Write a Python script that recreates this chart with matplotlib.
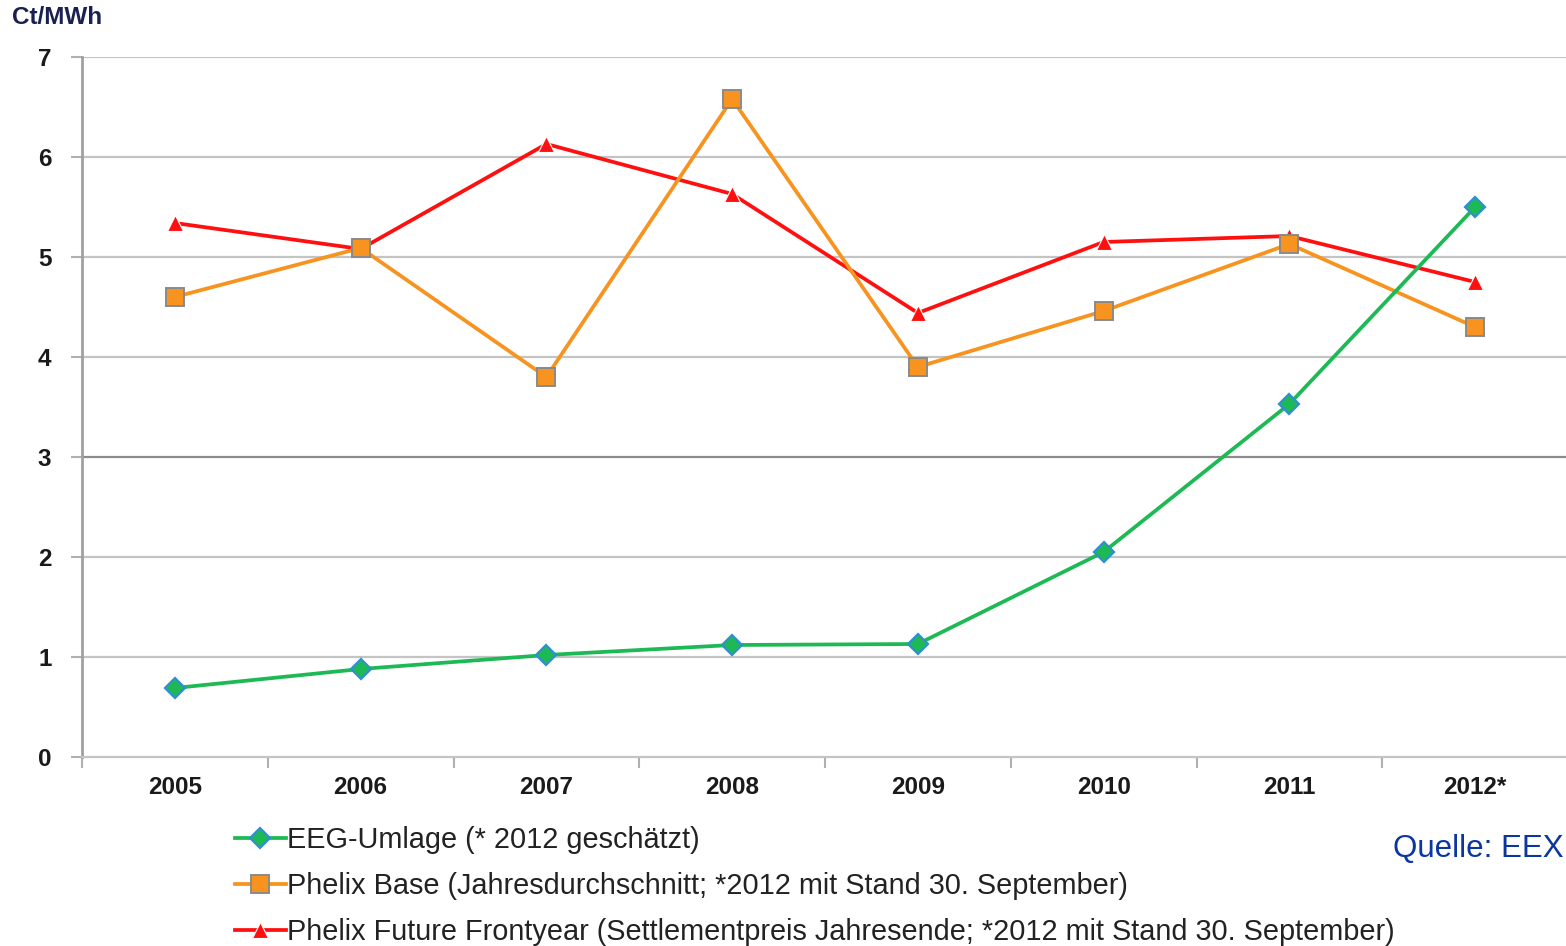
import matplotlib
matplotlib.use("Agg")
import matplotlib.pyplot as plt
import numpy as np

years = ["2005", "2006", "2007", "2008", "2009", "2010", "2011", "2012*"]
eeg = [0.69, 0.88, 1.02, 1.12, 1.13, 2.05, 3.53, 5.50]
base = [4.60, 5.09, 3.80, 6.58, 3.90, 4.46, 5.13, 4.30]
future = [5.34, 5.08, 6.13, 5.63, 4.44, 5.15, 5.21, 4.75]

lbl_eeg = "EEG-Umlage (* 2012 geschätzt)"
lbl_base = "Phelix Base (Jahresdurchschnitt; *2012 mit Stand 30. September)"
lbl_fut = "Phelix Future Frontyear (Settlementpreis Jahresende; *2012 mit Stand 30. September)"

plt.rcParams['font.family'] = ['Liberation Sans', 'DejaVu Sans']

fig = plt.figure(figsize=(15.66, 9.46), dpi=100)
ax = fig.add_axes([82/1566, 1-757/946, 1-82/1566 + 2/1566, 700/946])

x = np.arange(len(years))
l1, = ax.plot(x, eeg, color='#1DB954', lw=2.7, marker='D', ms=10.5,
              mfc='#1DB954', mec='#2F8FD0', mew=1.6, zorder=5)
l2, = ax.plot(x, base, color='#F7931E', lw=2.7, marker='s', ms=13.5,
              mfc='#F7931E', mec='#8a8a8a', mew=1.4, zorder=4)
l3, = ax.plot(x, future, color='#FF1010', lw=2.7, marker='^', ms=11,
              mfc='#FF1010', mec='white', mew=0.8, zorder=3)

ax.set_xlim(-0.5, len(years) - 0.5)
ax.set_ylim(0, 7)
ax.set_yticks(range(0, 8))
ax.set_xticks(x)
ax.set_xticklabels(years, fontsize=17.5, fontweight='bold', color='#1a1a1a')
ax.set_xticks(np.arange(-0.5, len(years)), minor=True)
ax.tick_params(axis='x', which='major', length=0, pad=14)
ax.tick_params(axis='x', which='minor', length=8, width=1.5, color='#b0b0b0', direction='out')
ax.tick_params(axis='y', length=8, width=1.5, color='#b0b0b0', pad=14,
               labelsize=17.5, labelcolor='#1a1a1a')
for t in ax.get_yticklabels():
    t.set_fontweight('bold')

for v in range(1, 8):
    c = '#8c8c8c' if v == 3 else '#c4c4c4'
    ax.axhline(v, color=c, lw=1.6, zorder=1)

for s in ['top', 'right']:
    ax.spines[s].set_visible(False)
ax.spines['left'].set_color('#a0a0a0')
ax.spines['left'].set_linewidth(2)
ax.spines['bottom'].set_color('#c4c4c4')
ax.spines['bottom'].set_linewidth(1.6)

fig.text(12/1566, 1-18/946, "Ct/MWh", fontsize=17.5, fontweight='bold',
         color='#1a2050', va='center', ha='left')
fig.text(1564/1566, 1-849/946, "Quelle: EEX", fontsize=22.5, color='#0a36a0',
         va='center', ha='right')

fig.legend([l1, l2, l3], [lbl_eeg, lbl_base, lbl_fut], loc='upper left',
           bbox_to_anchor=(235/1566, 1-826/946), frameon=False, fontsize=20.8,
           handlelength=1.75, handletextpad=0.05, labelspacing=0.62,
           borderaxespad=0, borderpad=0, labelcolor='#222222', markerscale=1.0)

fig.savefig("out.png", dpi=100)
